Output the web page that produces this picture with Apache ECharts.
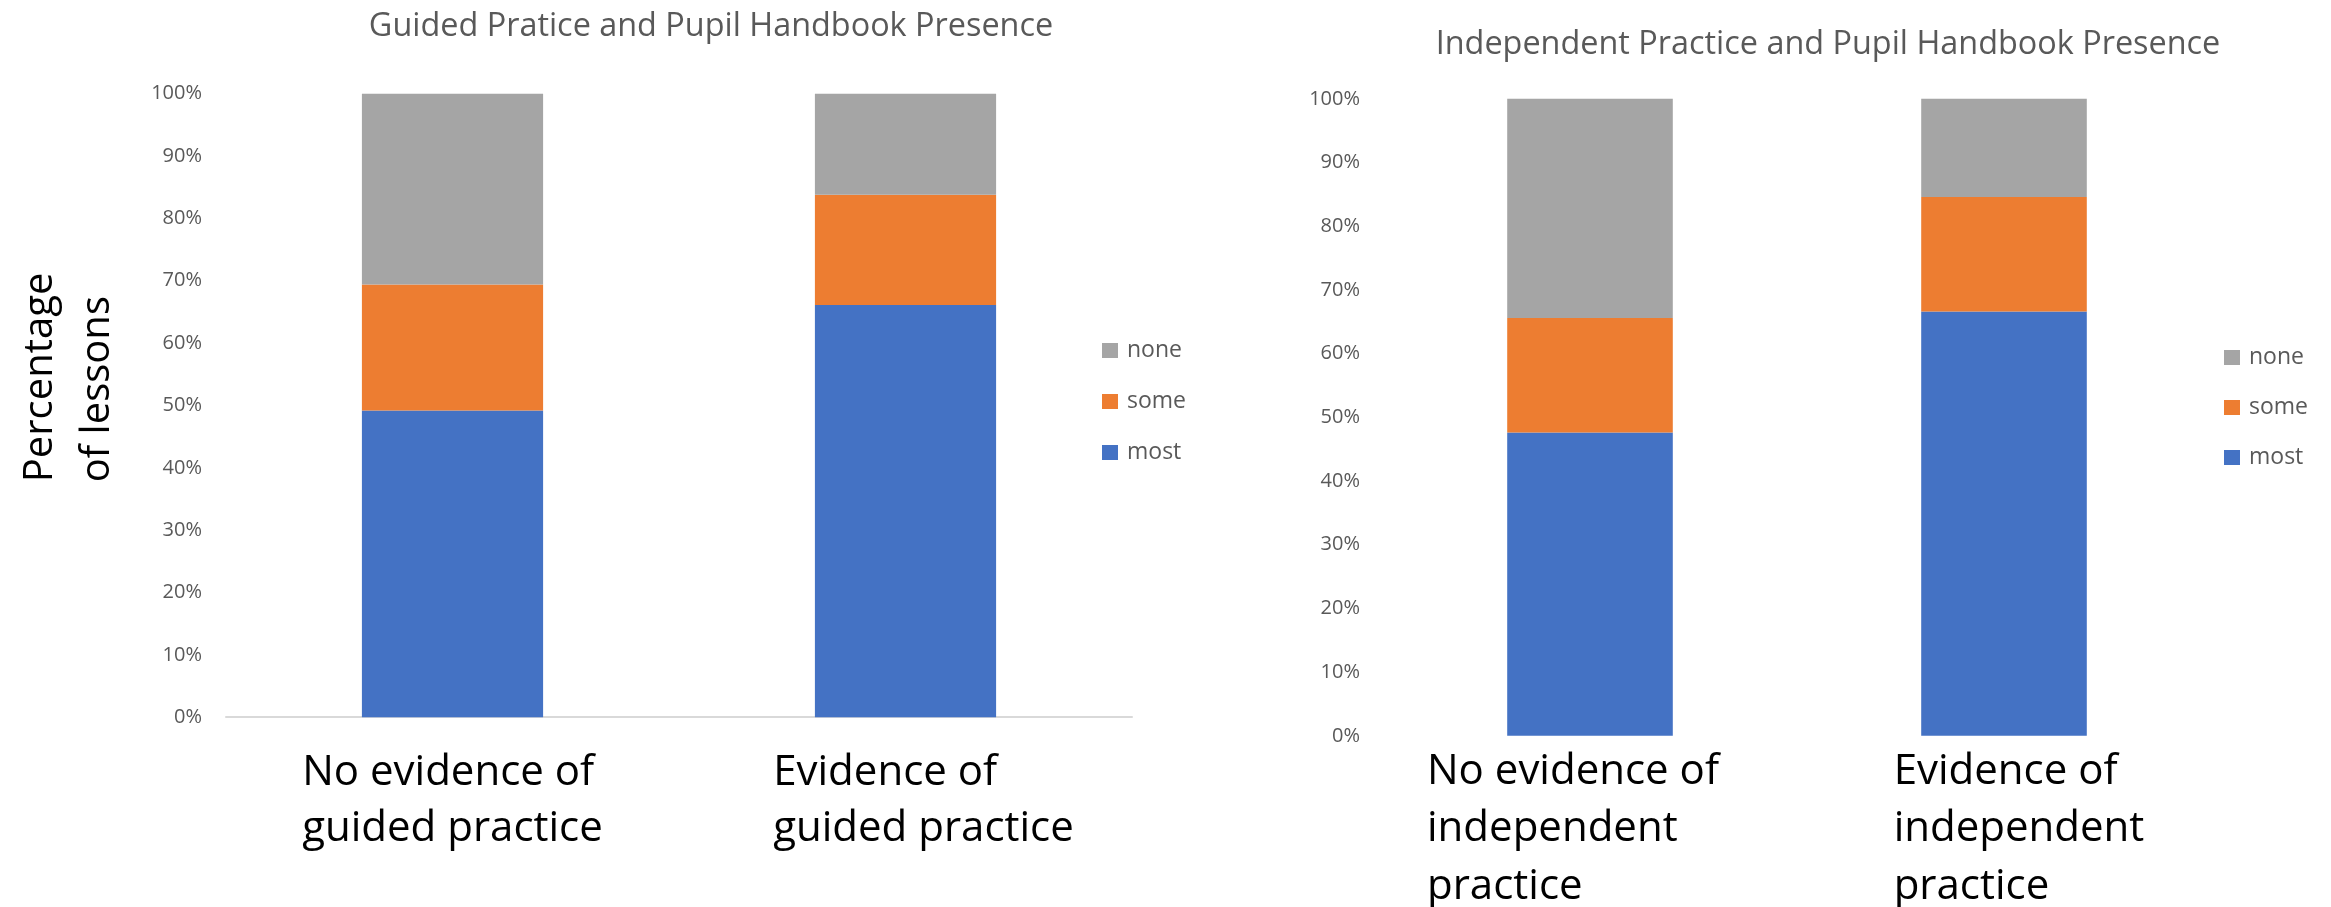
<!DOCTYPE html>
<html>
<head>
<meta charset="utf-8">
<script src="https://cdn.jsdelivr.net/npm/echarts@6/dist/echarts.min.js"></script>
<style>
  html, body { margin: 0; padding: 0; background: #ffffff; }
  #chart { width: 2331px; height: 907px; }
</style>
</head>
<body>
<div id="chart"></div>
<script>
// ---- data ----
const titleGuided = 'Guided Pratice and Pupil Handbook Presence';
const titleIndependent = 'Independent Practice and Pupil Handbook Presence';
const categoriesGuided = ['No evidence of\nguided practice', 'Evidence of\nguided practice'];
const categoriesIndependent = ['No evidence of\nindependent\npractice', 'Evidence of\nindependent\npractice'];
const legendOrder = ['none', 'some', 'most'];
const guidedMost = [49.2, 66.1];
const guidedSome = [20.2, 17.7];
const guidedNone = [30.6, 16.2];
const indepMost = [47.6, 66.6];
const indepSome = [18.0, 18.0];
const indepNone = [34.4, 15.4];
const yAxisName = ['Percentage', 'of lessons'];
const yMin = 0, yMax = 100, yStep = 10;

// ---- styling ----
const FONT = 'Open Sans';
const colors = { most: '#4472C4', some: '#ED7D31', none: '#A5A5A5' };
const grey = '#595959';

// per-category text-box nudges (left/right padding of the label block)
function catAxis(gridIndex, data, margin, lineH, pads) {
  const rich = {};
  pads.forEach(function (p, i) {
    rich['c' + i] = { align: 'left', color: '#000', fontFamily: FONT, fontSize: 42, lineHeight: lineH, padding: p };
  });
  return {
    type: 'category', gridIndex: gridIndex, data: data,
    axisLine: { show: gridIndex === 0, lineStyle: { color: '#D9D9D9', width: 2 } },
    axisTick: { show: false },
    axisLabel: {
      interval: 0, margin: margin, color: '#000', fontFamily: FONT, fontSize: 42, lineHeight: lineH,
      formatter: function (v, i) {
        return v.split('\n').map(function (s) { return '{c' + i + '|' + s + '}'; }).join('\n');
      },
      rich: rich
    }
  };
}

function valAxis(gridIndex, margin, withName) {
  const ax = {
    type: 'value', gridIndex: gridIndex, min: yMin, max: yMax, interval: yStep,
    axisLine: { show: false }, axisTick: { show: false }, splitLine: { show: false },
    axisLabel: { margin: margin, color: grey, fontFamily: FONT, fontSize: 20, formatter: '{value}%' }
  };
  if (withName) {
    ax.name = yAxisName.map(function (s) { return '{n|' + s + '}'; }).join('\n');
    ax.nameLocation = 'middle';
    ax.nameRotate = 90;
    ax.nameGap = 100;
    ax.nameTextStyle = {
      color: '#000', fontFamily: FONT, fontSize: 40, lineHeight: 57, padding: [0, 0, 0, 56],
      rich: { n: { align: 'left', color: '#000', fontFamily: FONT, fontSize: 40, lineHeight: 57 } }
    };
  }
  return ax;
}

function barSeries(name, data, idx) {
  return {
    name: name, type: 'bar', stack: 'g' + idx, xAxisIndex: idx, yAxisIndex: idx,
    barWidth: '40%', data: data, itemStyle: { color: colors[name] }
  };
}

function legendAt(left, top, gap) {
  return {
    orient: 'vertical', left: left, top: top, itemGap: gap, itemWidth: 16, itemHeight: 15,
    icon: 'rect', selectedMode: false, data: legendOrder, padding: 0,
    textStyle: { color: grey, fontFamily: FONT, fontSize: 23, padding: [0, 0, 0, 4] }
  };
}

const chart = echarts.init(document.getElementById('chart'), null, { renderer: 'canvas' });
chart.setOption({
  backgroundColor: '#ffffff',
  animation: false,
  title: [
    { text: titleGuided, left: 711, top: 11, textAlign: 'center', padding: 0,
      textStyle: { color: grey, fontFamily: FONT, fontSize: 32.4, fontWeight: 'normal' } },
    { text: titleIndependent, left: 1828, top: 29, textAlign: 'center', padding: 0,
      textStyle: { color: grey, fontFamily: FONT, fontSize: 32.4, fontWeight: 'normal' } }
  ],
  legend: [legendAt(1102, 339, 28), legendAt(2224, 346, 27)],
  grid: [
    { left: 226, top: 93.7, width: 906, height: 623.5, outerBoundsMode: 'none' },
    { left: 1383, top: 98.8, width: 828, height: 637, outerBoundsMode: 'none' }
  ],
  xAxis: [
    catAxis(0, categoriesGuided, 27.5, 56, [[0, 0, 0, 0], [0, 0, 0, 36]]),
    catAxis(1, categoriesIndependent, 7, 57.5, [[0, 34, 0, 0], [0, 0, 0, 30]])
  ],
  yAxis: [valAxis(0, 24, true), valAxis(1, 23, false)],
  series: [
    barSeries('most', guidedMost, 0),
    barSeries('some', guidedSome, 0),
    barSeries('none', guidedNone, 0),
    barSeries('most', indepMost, 1),
    barSeries('some', indepSome, 1),
    barSeries('none', indepNone, 1)
  ]
});
</script>
</body>
</html>
